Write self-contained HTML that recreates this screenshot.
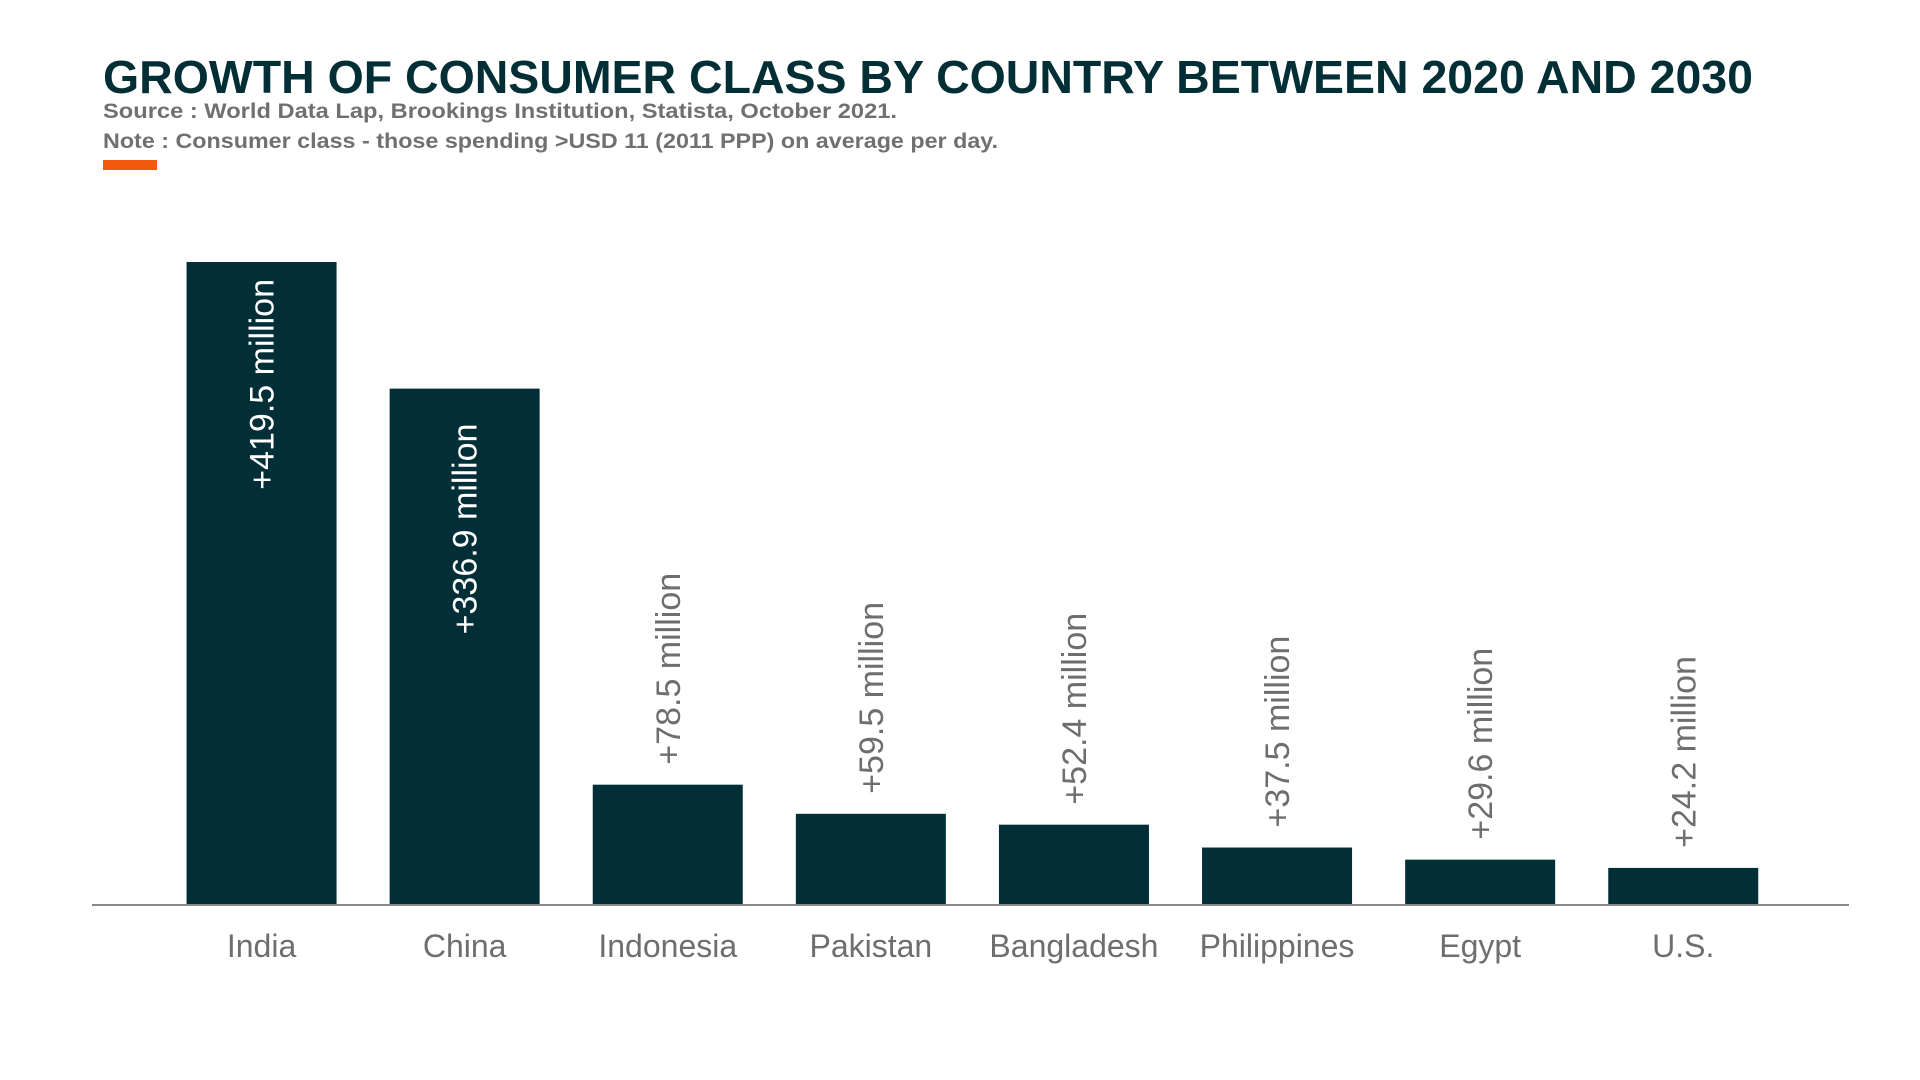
<!DOCTYPE html>
<html><head><meta charset="utf-8"><style>
html,body{margin:0;padding:0;background:#fff;width:1920px;height:1080px;overflow:hidden}
svg{display:block}
</style></head><body>
<svg id="chart" width="1920" height="1080" viewBox="0 0 1920 1080" xmlns="http://www.w3.org/2000/svg" font-family="'Liberation Sans', sans-serif">
<text x="103" y="93" font-size="46" font-weight="bold" fill="#022e36" textLength="1650" lengthAdjust="spacingAndGlyphs">GROWTH OF CONSUMER CLASS BY COUNTRY BETWEEN 2020 AND 2030</text>
<text x="103" y="118" font-size="21" font-weight="bold" fill="#707070" textLength="794" lengthAdjust="spacingAndGlyphs">Source : World Data Lap, Brookings Institution, Statista, October 2021.</text>
<text x="103" y="148" font-size="21" font-weight="bold" fill="#707070" textLength="895" lengthAdjust="spacingAndGlyphs">Note : Consumer class - those spending &gt;USD 11 (2011 PPP) on average per day.</text>
<rect x="103" y="160" width="54" height="10" fill="#f25a0f"/>
<g id="bars"></g>
<line x1="92" y1="905" x2="1849" y2="905" stroke="#8a8a8a" stroke-width="2"/>
</svg>
<script>
const categories = ["India","China","Indonesia","Pakistan","Bangladesh","Philippines","Egypt","U.S."];
const values = [419.5,336.9,78.5,59.5,52.4,37.5,29.6,24.2];
const valueLabels = ["+419.5 million","+336.9 million","+78.5 million","+59.5 million","+52.4 million","+37.5 million","+29.6 million","+24.2 million"];

const NS = "http://www.w3.org/2000/svg";
const g = document.getElementById("bars");
const baseY = 905, plotLeft = 160, step = 203.1, barW = 150;
const yScale = v => baseY - v * (643 / 419.5);
const xCenter = i => plotLeft + step * (i + 0.5);
categories.forEach((c, i) => {
  const cx = xCenter(i), top = yScale(values[i]);
  const r = document.createElementNS(NS, "rect");
  
  
  r.setAttribute("x", cx - barW / 2); r.setAttribute("y", top);
  r.setAttribute("width", barW); r.setAttribute("height", baseY - top);
  r.setAttribute("fill", "#022f37");
  g.appendChild(r);
  const inside = (baseY - top) > 300;
  const t = document.createElementNS(NS, "text");
  
  
  const ty = inside ? top + 17 + (i === 1 ? 18 : 0) : top - 20;
  t.setAttribute("transform", "translate(" + (cx + 12) + "," + ty + ") rotate(-90)");
  t.setAttribute("text-anchor", inside ? "end" : "start");
  t.setAttribute("font-size", "34");
  t.setAttribute("fill", inside ? "#ffffff" : "#6e6e6e");
  t.textContent = valueLabels[i];
  g.appendChild(t);
  const l = document.createElementNS(NS, "text");
  
  
  l.setAttribute("x", cx); l.setAttribute("y", 957);
  l.setAttribute("text-anchor", "middle");
  l.setAttribute("font-size", "32");
  l.setAttribute("fill", "#6e6e6e");
  l.textContent = c;
  g.appendChild(l);
});
</script>
</body></html>
